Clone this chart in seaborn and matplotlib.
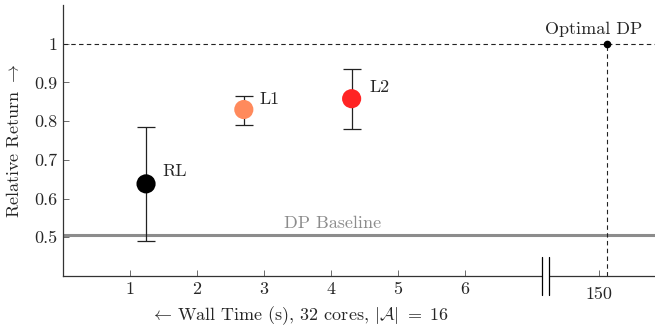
import numpy as np
import pandas as pd
import matplotlib
matplotlib.use("Agg")
import matplotlib.pyplot as plt
import seaborn as sns

# data
methods = ["RL", "L1", "L2"]
wall_time = [1.24, 2.70, 4.31]
rel_return = [0.638, 0.830, 0.858]
err_low = [0.490, 0.789, 0.780]
err_high = [0.786, 0.866, 0.935]
colors = ["#000000", "#FF8A5C", "#FF2424"]

dp_baseline = 0.507
optimal_time = 152.0
optimal_return = 1.0

x_ticks = [1, 2, 3, 4, 5, 6, 150]
y_ticks = [0.5, 0.6, 0.7, 0.8, 0.9, 1.0]
y_tick_labels = ["0.5", "0.6", "0.7", "0.8", "0.9", "1"]


def broken_x(t):
    # axis is cut after 7: values near 150 are moved next to the break
    t = np.asarray(t, dtype=float)
    return np.where(t < 100, t, 8 + (t - 150) * 0.06)


sns.set_theme(style="white")
plt.rcParams["font.family"] = ["cmr10", "DejaVu Serif"]
plt.rcParams["mathtext.fontset"] = "cm"
plt.rcParams["axes.formatter.use_mathtext"] = True
fs = 13
plt.rcParams["font.size"] = fs

df = pd.DataFrame({"method": methods, "x": broken_x(wall_time), "y": rel_return})

fig = plt.figure(figsize=(6.55, 3.26), dpi=100)
ax = fig.add_axes([63 / 655, 50 / 326, 592 / 655, 271 / 326])

# DP baseline
ax.axhline(dp_baseline, color="#8c8c8c", lw=2.2, zorder=1)
ax.text(4.02, dp_baseline + 0.008, "DP Baseline", color="#8c8c8c",
        ha="center", va="bottom", fontsize=fs)

# Optimal DP
ox = float(broken_x(optimal_time))
ax.axhline(optimal_return, color="#222222", lw=0.8, ls=(0, (4, 3)), zorder=1)
ax.plot([ox, ox], [0.4, optimal_return], color="#222222", lw=0.8,
        ls=(0, (4, 3)), zorder=1)
ax.plot(ox, optimal_return, "o", color="black", ms=4.5, zorder=4)
ax.text(ox - 0.2, optimal_return + 0.018, "Optimal DP", ha="center",
        va="bottom", fontsize=fs)

# error bars
yerr = [np.array(rel_return) - np.array(err_low),
        np.array(err_high) - np.array(rel_return)]
ax.errorbar(df["x"], df["y"], yerr=yerr, fmt="none", ecolor="#222222",
            elinewidth=0.9, capsize=6.5, capthick=0.9, zorder=2)

sns.scatterplot(data=df, x="x", y="y", hue="method", palette=colors,
                s=190, edgecolor="none", legend=False, zorder=3, ax=ax)

offsets = {"RL": (0.24, 0.032), "L1": (0.24, 0.027), "L2": (0.27, 0.030)}
for m, xv, yv in zip(methods, df["x"], df["y"]):
    dx, dy = offsets[m]
    ax.text(xv + dx, yv + dy, m, ha="left", va="center", fontsize=fs)

ax.set_xlim(0, 8.84)
ax.set_ylim(0.4, 1.1)
ax.set_xticks(broken_x(x_ticks))
ax.set_xticklabels([str(t) for t in x_ticks])
ax.set_yticks(y_ticks)
ax.set_yticklabels(y_tick_labels)
ax.tick_params(bottom=True, left=True, direction="in", length=4, width=0.6,
               color="#555555", labelsize=fs, pad=4)
ax.xaxis.get_major_ticks()[-1].set_pad(8)

for s in ["top", "right"]:
    ax.spines[s].set_visible(False)
for s in ["left", "bottom"]:
    ax.spines[s].set_color("#333333")
    ax.spines[s].set_linewidth(0.9)

# axis break marks
for bx in [7.16, 7.26]:
    ax.plot([bx, bx], [0.4 - 0.05, 0.4 + 0.05], color="black", lw=0.9,
            clip_on=False, zorder=5)
ax.fill_between([7.17, 7.25], 0.39, 0.41, color="white", clip_on=False,
                zorder=4, lw=0)

ax.set_xlabel(r"$\leftarrow\,$Wall Time (s), 32 cores, $|\mathcal{A}|\ =\ 16$",
              fontsize=fs)
ax.xaxis.set_label_coords(0.40, -0.105)
ax.set_ylabel(r"Relative Return $\rightarrow$", fontsize=fs)
ax.yaxis.set_label_coords(-0.07, 0.5)

fig.savefig("out.png", dpi=100)
